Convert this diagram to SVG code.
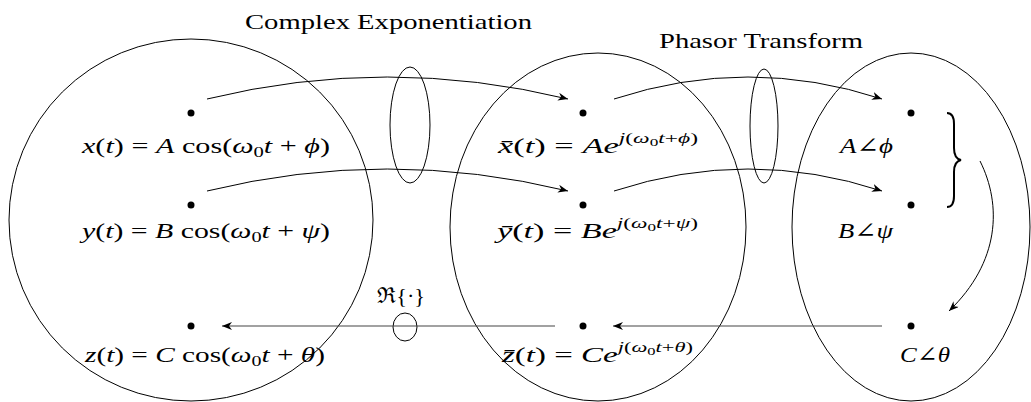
<svg xmlns="http://www.w3.org/2000/svg" width="1031" height="402" viewBox="0 0 1031 402">
<style>
.t{font-family:"Liberation Serif","Times New Roman","DejaVu Serif",serif;font-size:22px;fill:#000}
.i{font-style:italic}
.sm{font-size:15px}
.ss{font-size:11px}
.big{fill:none;stroke:#000;stroke-width:1}
.conn{fill:none;stroke:#000;stroke-width:1}
.gray{fill:none;stroke:#444;stroke-width:1.2}
.dot{fill:#000}
</style>
<defs>
<marker id="ah" viewBox="0 0 10 8" refX="10" refY="4" markerWidth="10" markerHeight="8" markerUnits="userSpaceOnUse" orient="auto">
<path d="M0,0 L10,4 L0,8 L3,4 z" fill="#000"/>
</marker>
</defs>
<rect width="1031" height="402" fill="#fff"/>

<g id="titles">
<text class="t" font-family="Liberation Serif, serif" x="245" y="29" textLength="287" lengthAdjust="spacingAndGlyphs">Complex Exponentiation</text>
<text class="t" font-family="Liberation Serif, serif" x="659" y="48" textLength="204" lengthAdjust="spacingAndGlyphs">Phasor Transform</text>
</g>

<g id="sets">
<ellipse class="big" cx="191" cy="220" rx="182" ry="181"/>
<ellipse class="big" cx="598" cy="227" rx="148" ry="174"/>
<ellipse class="big" cx="911" cy="227" rx="119" ry="174"/>
</g>

<g id="operators">
<ellipse class="big" cx="410" cy="125" rx="20" ry="58"/>
<ellipse class="big" cx="764" cy="126" rx="14" ry="57"/>
<ellipse class="big" cx="405" cy="327" rx="12" ry="14"/>
<text class="t" x="377" y="303" textLength="48" lengthAdjust="spacingAndGlyphs">ℜ{·}</text>
</g>

<g id="connectors">
<path class="conn" d="M207,99 Q387,55 568,99" marker-end="url(#ah)"/>
<path class="conn" d="M207,191 Q387,147 568,191" marker-end="url(#ah)"/>
<path class="conn" d="M614,99 Q748,55 882,99" marker-end="url(#ah)"/>
<path class="conn" d="M614,191 Q748,147 882,191" marker-end="url(#ah)"/>
<path class="gray" d="M555,326 L222,326" marker-end="url(#ah)"/>
<path class="gray" d="M882,326 L613,326" marker-end="url(#ah)"/>
<path class="conn" d="M980,161 C1002,205 1000,262 949,311" marker-end="url(#ah)"/>
</g>

<g id="brace">
<path d="M947,113 C952,113 954,117 954,124 L954,148 C954,155 956,159 961,160 C956,161 954,165 954,172 L954,196 C954,203 952,207 947,207" fill="none" stroke="#000" stroke-width="2"/>
</g>

<g id="node-x">
<circle class="dot" cx="191" cy="113" r="3.5"/>
<text class="t" x="82" y="153" textLength="248" lengthAdjust="spacingAndGlyphs"><tspan class="i">x</tspan>(<tspan class="i">t</tspan>) = <tspan class="i">A</tspan> cos(<tspan class="i">ω</tspan><tspan class="sm" dy="4">0</tspan><tspan class="i" dy="-4">t</tspan> + <tspan class="i">ϕ</tspan>)</text>
</g>
<g id="node-y">
<circle class="dot" cx="191" cy="205" r="3.5"/>
<text class="t" x="82" y="238" textLength="248" lengthAdjust="spacingAndGlyphs"><tspan class="i">y</tspan>(<tspan class="i">t</tspan>) = <tspan class="i">B</tspan> cos(<tspan class="i">ω</tspan><tspan class="sm" dy="4">0</tspan><tspan class="i" dy="-4">t</tspan> + <tspan class="i">ψ</tspan>)</text>
</g>
<g id="node-z">
<circle class="dot" cx="191" cy="326" r="3.5"/>
<text class="t" x="85" y="362" textLength="240" lengthAdjust="spacingAndGlyphs"><tspan class="i">z</tspan>(<tspan class="i">t</tspan>) = <tspan class="i">C</tspan> cos(<tspan class="i">ω</tspan><tspan class="sm" dy="4">0</tspan><tspan class="i" dy="-4">t</tspan> + <tspan class="i">θ</tspan>)</text>
</g>

<g id="node-xbar">
<circle class="dot" cx="583" cy="113" r="3.5"/>
<text class="t" x="498" y="153" textLength="200" lengthAdjust="spacingAndGlyphs"><tspan class="i">x̄</tspan>(<tspan class="i">t</tspan>) = <tspan class="i">Ae</tspan><tspan class="sm i" dy="-10">j</tspan><tspan class="sm">(</tspan><tspan class="sm i">ω</tspan><tspan class="ss" dy="3">0</tspan><tspan class="sm i" dy="-3">t</tspan><tspan class="sm">+</tspan><tspan class="sm i">ϕ</tspan><tspan class="sm">)</tspan></text>
</g>
<g id="node-ybar">
<circle class="dot" cx="583" cy="205" r="3.5"/>
<text class="t" x="497" y="238" textLength="201" lengthAdjust="spacingAndGlyphs"><tspan class="i">ȳ</tspan>(<tspan class="i">t</tspan>) = <tspan class="i">Be</tspan><tspan class="sm i" dy="-10">j</tspan><tspan class="sm">(</tspan><tspan class="sm i">ω</tspan><tspan class="ss" dy="3">0</tspan><tspan class="sm i" dy="-3">t</tspan><tspan class="sm">+</tspan><tspan class="sm i">ψ</tspan><tspan class="sm">)</tspan></text>
</g>
<g id="node-zbar">
<circle class="dot" cx="583" cy="326" r="3.5"/>
<text class="t" x="502" y="362" textLength="191" lengthAdjust="spacingAndGlyphs"><tspan class="i">z̄</tspan>(<tspan class="i">t</tspan>) = <tspan class="i">Ce</tspan><tspan class="sm i" dy="-10">j</tspan><tspan class="sm">(</tspan><tspan class="sm i">ω</tspan><tspan class="ss" dy="3">0</tspan><tspan class="sm i" dy="-3">t</tspan><tspan class="sm">+</tspan><tspan class="sm i">θ</tspan><tspan class="sm">)</tspan></text>
</g>

<g id="node-a">
<circle class="dot" cx="911" cy="113" r="3.5"/>
<text class="t" x="840" y="153" textLength="53" lengthAdjust="spacingAndGlyphs"><tspan class="i">A</tspan>∠<tspan class="i">ϕ</tspan></text>
</g>
<g id="node-b">
<circle class="dot" cx="911" cy="205" r="3.5"/>
<text class="t" x="838" y="238" textLength="55" lengthAdjust="spacingAndGlyphs"><tspan class="i">B</tspan>∠<tspan class="i">ψ</tspan></text>
</g>
<g id="node-c">
<circle class="dot" cx="911" cy="326" r="3.5"/>
<text class="t" x="900" y="362" textLength="50" lengthAdjust="spacingAndGlyphs"><tspan class="i">C</tspan>∠<tspan class="i">θ</tspan></text>
</g>
</svg>
